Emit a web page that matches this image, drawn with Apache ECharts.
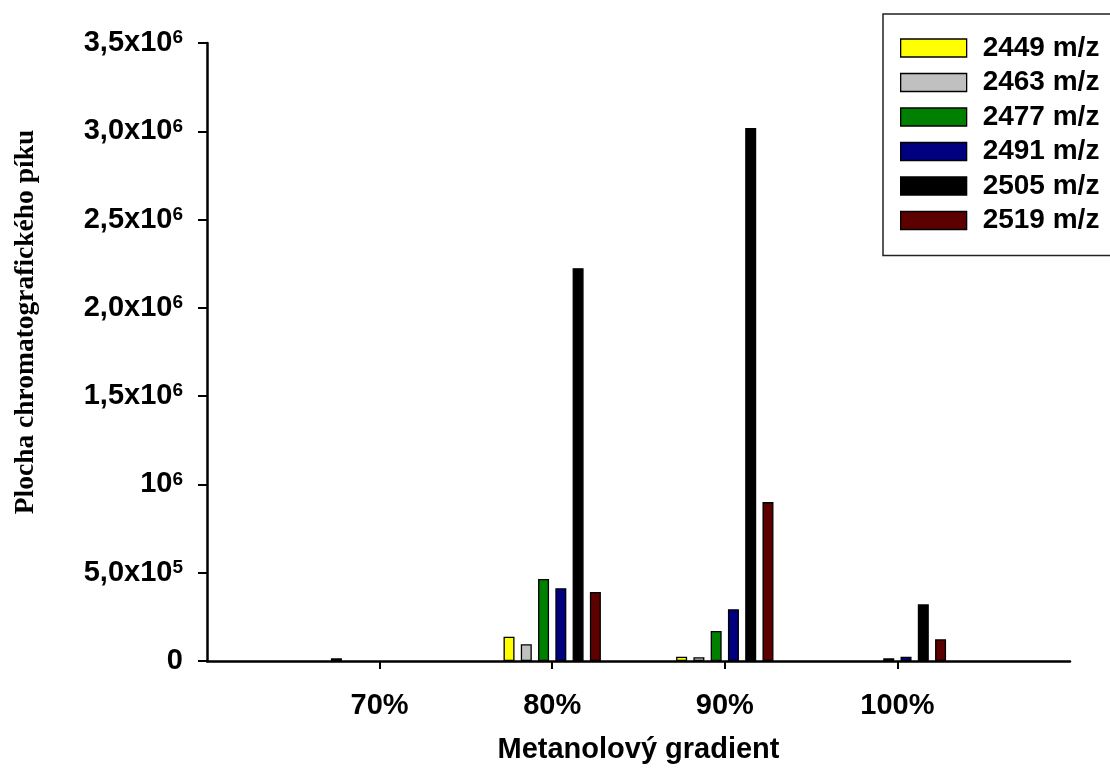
<!DOCTYPE html>
<html>
<head>
<meta charset="utf-8">
<script src="https://cdn.jsdelivr.net/npm/echarts@6/dist/echarts.min.js"></script>
<style>
html,body{margin:0;padding:0;background:#fff;}
#chart{width:1110px;height:776px;}
</style>
</head>
<body>
<div id="chart"></div>
<script>
// ---- data ----
const categories = ['70%', '80%', '90%', '100%'];
const seriesNames = ['2449 m/z', '2463 m/z', '2477 m/z', '2491 m/z', '2505 m/z', '2519 m/z'];
const s2449 = [15000, 138000, 24000, 0];
const s2463 = [0, 95000, 21000, 0];
const s2477 = [0, 464000, 170000, 15000];
const s2491 = [0, 412000, 293000, 24000];
const s2505 = [0, 2225000, 3018000, 321000];
const s2519 = [0, 391000, 900000, 123000];
// y tick labels: [mantissa text, superscript exponent]
const yTickLabels = [
  ['0', ''], ['5,0x10', '5'], ['10', '6'], ['1,5x10', '6'],
  ['2,0x10', '6'], ['2,5x10', '6'], ['3,0x10', '6'], ['3,5x10', '6']
];
const yStep = 500000;
const yMax = 3500000;
const xTitle = 'Metanolový gradient';
const yTitle = 'Plocha chromatografického píku';

// ---- styles ----
const colors = ['#ffff00', '#c0c0c0', '#008000', '#000080', '#000000', '#5c0000'];
const seriesValues = [s2449, s2463, s2477, s2491, s2505, s2519];
const FONT = "'Liberation Sans', Arial, sans-serif";

const axisCats = [''].concat(categories).concat(['']);

const series = seriesNames.map((name, i) => ({
  name: name,
  type: 'bar',
  barWidth: 11,
  barGap: '57%',
  itemStyle: { color: colors[i], borderColor: '#000', borderWidth: 1.3 },
  data: [null].concat(seriesValues[i].map(v => v === 0 ? null : v)).concat([null])
}));

const chart = echarts.init(document.getElementById('chart'), null, { renderer: 'canvas' });
chart.setOption({
  animation: false,
  backgroundColor: '#fff',
  grid: { left: 207, right: 40, top: 43, bottom: 115, containLabel: false, outerBoundsMode: 'none' },
  legend: {
    left: 883, top: 14,
    orient: 'vertical',
    data: seriesNames,
    icon: 'rect',
    itemWidth: 66, itemHeight: 18, itemGap: 6.5,
    padding: [20, 40, 21, 17],
    backgroundColor: '#fff',
    borderColor: '#222', borderWidth: 1.5, borderRadius: 0,
    itemStyle: { borderColor: '#000', borderWidth: 1.3 },
    textStyle: { fontFamily: FONT, fontWeight: 'bold', fontSize: 28, color: '#000', padding: [0, 0, 0, 11], lineHeight: 28 }
  },
  xAxis: {
    type: 'category',
    data: axisCats,
    boundaryGap: false,
    axisLine: { lineStyle: { color: '#000', width: 2.5 } },
    axisTick: { show: true, length: 8, lineStyle: { color: '#000', width: 2 }, interval: (idx) => idx > 0 && idx < axisCats.length - 1 },
    axisLabel: { interval: 0, margin: 30, fontFamily: FONT, fontWeight: 'bold', fontSize: 29, color: '#000' },
    splitLine: { show: false },
    name: xTitle,
    nameLocation: 'middle',
    nameGap: 74,
    nameTextStyle: { fontFamily: FONT, fontWeight: 'bold', fontSize: 29, color: '#000' }
  },
  yAxis: {
    type: 'value',
    min: 0, max: yMax, interval: yStep,
    axisLine: { show: true, lineStyle: { color: '#000', width: 2.5 } },
    axisTick: { show: true, length: 9, lineStyle: { color: '#000', width: 2 } },
    splitLine: { show: false },
    axisLabel: {
      margin: 24,
      formatter: function (v) {
        const t = yTickLabels[Math.round(v / yStep)];
        if (!t) return '';
        return t[1] ? '{b|' + t[0] + '}{s|' + t[1] + '}' : '{b|' + t[0] + '}';
      },
      rich: {
        b: { fontFamily: FONT, fontWeight: 'bold', fontSize: 29, lineHeight: 29, color: '#000' },
        s: { fontFamily: FONT, fontWeight: 'bold', fontSize: 19, lineHeight: 19, color: '#000', verticalAlign: 'top' }
      }
    }
  },
  graphic: [{
    type: 'text',
    x: 26, y: 322,
    rotation: Math.PI / 2,
    style: {
      text: yTitle,
      font: "bold 27.5px 'Liberation Serif', 'Times New Roman', serif",
      fill: '#000',
      align: 'center',
      verticalAlign: 'middle'
    }
  }],
  series: series
});
</script>
</body>
</html>
